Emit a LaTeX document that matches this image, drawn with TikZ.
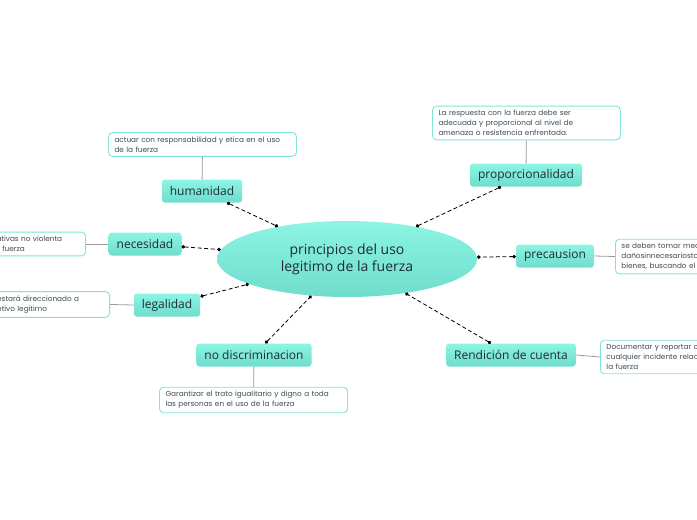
\documentclass[tikz,border=0pt]{standalone}
\usepackage{fontspec}
\setmainfont{Open Sans}
\newfontfamily\notefont{Poppins}
\usetikzlibrary{arrows.meta,shapes.geometric,positioning}
\definecolor{mapfill}{HTML}{8CF5E4}
\definecolor{mapshade}{HTML}{6FDCCC}
\definecolor{noteline}{HTML}{7FE6D6}
\definecolor{linkgrey}{HTML}{9A9A9A}
\definecolor{textdark}{HTML}{1F2B33}
\tikzset{
  topic/.style={rectangle, rounded corners=3pt, top color=mapfill, bottom color=mapshade,
    minimum height=23pt, inner xsep=8pt, text=textdark, font=\fontsize{12}{14}\selectfont},
  note/.style={rectangle, rounded corners=4pt, draw=noteline, fill=white, line width=0.9pt,
    text width=176pt, inner xsep=6pt, inner ysep=4pt, align=left, text=textdark!85,
    font=\notefont\fontsize{7.3}{10}\selectfont},
  link/.style={draw=linkgrey, line width=0.8pt},
  flow/.style={line width=0.8pt, dash pattern=on 4pt off 2.5pt,
    {Circle[length=3.5pt]}-{Circle[length=3.5pt]}}
}
\begin{document}
\begin{tikzpicture}[x=1pt,y=-1pt]
  \useasboundingbox (0,0) rectangle (697,520);
  % central topic
  \node[ellipse, minimum width=260pt, minimum height=76pt, top color=mapfill, bottom color=mapshade,
    text=textdark, align=center, font=\fontsize{14}{17}\selectfont] (centro) at (347,259)
    {principios del uso\\legitimo de la fuerza};
  % main topics
  \node[topic] (humanidad) at (202,191) {humanidad};
  \node[topic] (proporcionalidad) at (526,175) {proporcionalidad};
  \node[topic] (necesidad) at (145,244) {necesidad};
  \node[topic] (precausion) at (555,256) {precausion};
  \node[topic] (legalidad) at (167,305) {legalidad};
  \node[topic] (nodiscriminacion) at (254,355) {no discriminacion};
  \node[topic] (rendicion) at (511,355) {Rendición de cuenta};
  % notes
  \node[note] (humnote) at (202.5,144.5) {actuar con responsabilidad y etica en el uso\\de la fuerza};
  \node[note] (propnote) at (526.5,123) {La respuesta con la fuerza debe ser\\adecuada y proporcional al nivel de\\amenaza o resistencia enfrentada.};
  \node[note, anchor=east] (necnote) at (86,244) {Se debe utilizar las alternativas no violenta\\antes de recurrir a usar la fuerza};
  \node[note, anchor=west] (precnote) at (615,256.5) {se deben tomar medidas para evitar\\dañosinnecesariosto personas y\\bienes, buscando el menor daño};
  \node[note, anchor=east] (legnote) at (110,304.5) {El uso de la fuerza estará direccionado a\\cumplir con un objetivo legitimo};
  \node[note] (nodisnote) at (253.5,400) {Garantizar el trato igualitario y digno a toda\\las personas en el uso de la fuerza};
  \node[note, anchor=west] (rendnote) at (600,357) {Documentar y reportar cada uso y\\cualquier incidente relacionado con\\la fuerza};
  % note links
  \draw[link] (humnote) -- (humanidad);
  \draw[link] (propnote) -- (proporcionalidad);
  \draw[link] (necnote.east) -- (necesidad.west);
  \draw[link] (precausion.east) -- (precnote.west);
  \draw[link] (legnote.east) -- (legalidad.west);
  \draw[link] (nodiscriminacion) -- (nodisnote);
  \draw[link] (rendicion.east) -- (rendnote.west);
  % relations to the centre
  \draw[flow] (humanidad) -- (centro);
  \draw[flow] (proporcionalidad) -- (centro);
  \draw[flow] (necesidad) -- (centro);
  \draw[flow] (precausion) -- (centro);
  \draw[flow] (legalidad) -- (centro);
  \draw[flow] (nodiscriminacion) -- (centro);
  \draw[flow] (rendicion) -- (centro);
\end{tikzpicture}
\end{document}
